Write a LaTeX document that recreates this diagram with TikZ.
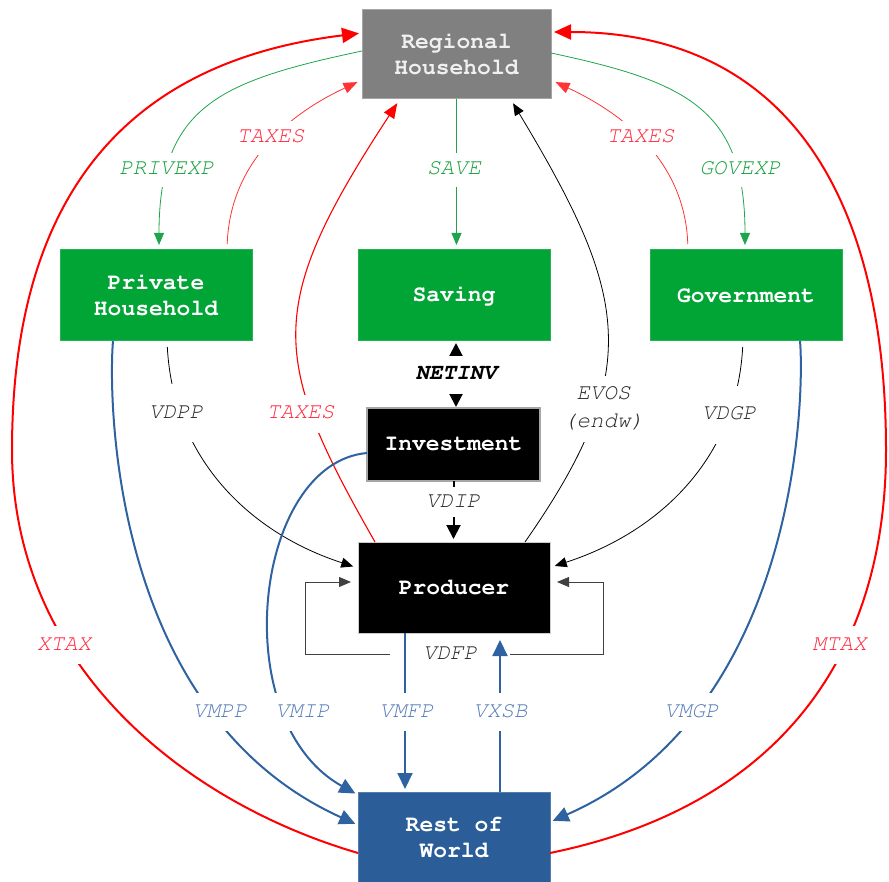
\documentclass[tikz,border=0pt]{standalone}
\usepackage[T1]{fontenc}
\usepackage{tikz}
\usetikzlibrary{arrows.meta,calc}
\newcommand{\sectorfont}{\fontencoding{T1}\fontfamily{pcr}\fontseries{b}\fontsize{23}{26}\selectfont}
\newcommand{\flowfont}{\fontencoding{T1}\fontfamily{pcr}\fontshape{sl}\fontsize{22.5}{28}\selectfont}
\definecolor{rhgray}{RGB}{128,128,128}
\definecolor{boxgreen}{RGB}{0,165,53}
\definecolor{rowblue}{RGB}{43,94,152}
\definecolor{flowblue}{RGB}{46,98,160}
\definecolor{flowgreen}{RGB}{30,165,75}
\definecolor{taxred}{RGB}{255,0,0}
\definecolor{lblgreen}{RGB}{20,160,60}
\definecolor{lblred}{RGB}{255,40,60}
\definecolor{lblblue}{RGB}{85,125,185}
\definecolor{lblblack}{RGB}{40,40,40}
\tikzset{
	sector/.style={rectangle,minimum width=192pt,minimum height=91pt,inner sep=0pt,outer sep=0pt,align=center,font=\sectorfont,text=white,line width=1pt},
	lbl/.style={fill=white,inner xsep=4pt,inner ysep=9pt,text height=15pt,text depth=5pt,font=\flowfont,text=lblblack},
	thinflow/.style={line width=0.8pt,-{Triangle[length=12pt,width=10pt]},shorten >=5pt},
	thickflow/.style={line width=2pt,-{Triangle[length=14pt,width=14pt]},shorten >=3pt},
	blueflow/.style={line width=2pt,flowblue,-{Triangle[length=16pt,width=15pt]},shorten >=3pt},
	taxflow/.style={line width=2pt,taxred,-{Triangle[length=17pt,width=15pt]},shorten >=3pt}}
\begin{document}
\begin{tikzpicture}[x=1pt,y=1pt]
	\useasboundingbox (0,0) rectangle (889,-882);
	\node (RH) at (456.5,-54.5) [sector,fill=rhgray,draw=gray!70,minimum width=189pt,minimum height=89pt,text=gray!12] {Regional\\Household};
	\node (PH) at (156,-295.5) [sector,fill=boxgreen,draw=boxgreen!85] {Private\\Household};
	\node (Sav) at (454,-295.5) [sector,fill=boxgreen,draw=boxgreen!85] {Saving};
	\node (Gov) at (746,-295.5) [sector,fill=boxgreen,draw=boxgreen!85] {Government};
	\node (Inv) at (453.5,-444.5) [sector,fill=black,draw=gray!70,line width=1.5pt,minimum width=173pt,minimum height=73pt] {Investment};
	\node (Prod) at (454,-587.5) [sector,fill=black,draw=gray!40] {Producer};
	\node (RoW) at (454,-837) [sector,fill=rowblue,draw=rowblue!80,minimum height=90pt] {Rest of\\World};
	\draw[thinflow,flowgreen] ([yshift=3.5pt]RH.west) to[out=192,in=90,looseness=1.3] ([xshift=3pt]PH.north);
	\draw[thinflow,flowgreen] (RH.south) -- (RH.south |- Sav.north);
	\draw[thinflow,flowgreen] ([yshift=1.5pt]RH.east) to[out=-12,in=90,looseness=1.3] ([xshift=-1pt]Gov.north);
	\draw[thinflow,taxred!80,shorten <=6pt,-{Triangle[length=14pt,width=11pt]}] ([xshift=71pt]PH.north) to[out=88,in=205] ([yshift=-25.5pt]RH.west);
	\draw[thinflow,taxred!80,shorten <=6pt,-{Triangle[length=14pt,width=11pt]}] ([xshift=-58pt]Gov.north) to[out=92,in=-25] ([yshift=-25.5pt]RH.east);
	\draw[thinflow,taxred,line width=1.1pt,-{Triangle[length=15pt,width=12pt]}] ([xshift=17pt]Prod.north west) .. controls (270,-358) and (264,-307) .. ([xshift=38pt]RH.south west);
	\draw[thinflow] ([xshift=-25pt]Prod.north east) .. controls (645,-370) and (629,-296) .. ([xshift=54pt]RH.south);
	\draw[line width=2pt,{Triangle[length=13pt,width=13pt]}-{Triangle[length=13pt,width=13pt]},shorten <=2pt,shorten >=1pt] ([xshift=2pt]Sav.south) -- ([xshift=2pt]Sav.south |- Inv.north);
	\draw[thickflow] (Inv.south) -- (Inv.south |- Prod.north);
	\draw[thinflow,shorten <=6pt] ([xshift=11pt]PH.south) to[out=-87,in=162] ([yshift=19.5pt]Prod.west);
	\draw[thinflow,shorten <=6pt] ([xshift=-3pt]Gov.south) to[out=-93,in=18] ([yshift=20pt]Prod.east);
	\node (lvdfp) at (450,-654) [lbl,minimum width=120pt] {VDFP};
	\draw[thinflow,black!75,shorten >=7pt] (lvdfp.west) -| ([xshift=-53pt,yshift=5.5pt]Prod.west) -- ([yshift=5.5pt]Prod.west);
	\draw[thinflow,black!75,shorten >=7pt] (lvdfp.east) -| ([xshift=53pt,yshift=5.5pt]Prod.east) -- ([yshift=5.5pt]Prod.east);
	\draw[blueflow] ([xshift=-49pt]Prod.south) -- ([xshift=-49pt]Prod.south |- RoW.north);
	\draw[blueflow,shorten >=7pt] ([xshift=46pt]RoW.north) -- ([xshift=46pt]RoW.north |- Prod.south);
	\draw[blueflow] ([xshift=-43pt]PH.south) .. controls (108.5,-392) and (108,-712) .. ([yshift=12pt]RoW.west);
	\draw[blueflow] ([yshift=-8.5pt]Inv.west) .. controls (253.5,-463) and (225,-721) .. ([yshift=-3pt]RoW.north west);
	\draw[blueflow] ([xshift=54pt]Gov.south) .. controls (804.5,-392) and (800,-712) .. ([yshift=15pt]RoW.east);
	\draw[taxflow] ([yshift=-16pt]RoW.west) .. controls (190,-804) and (12,-670) .. (12,-450) .. controls (12,-190) and (132,-61) .. ([yshift=21.5pt]RH.west);
	\draw[taxflow] ([yshift=-16pt]RoW.east) .. controls (775,-807) and (886,-660) .. (886,-450) .. controls (886,-190) and (782,-32) .. ([yshift=22.5pt]RH.east);
	\node (lprivexp) at (166.5,-170) [lbl,inner ysep=7pt,text=lblgreen] {PRIVEXP};
	\node (ltaxph) at (270.5,-138) [lbl,inner ysep=7pt,text=lblred] {TAXES};
	\node (lsave) at (454,-170) [lbl,inner ysep=7pt,text=lblgreen] {SAVE};
	\node (ltaxgov) at (640.5,-138) [lbl,inner ysep=7pt,text=lblred] {TAXES};
	\node (lgovexp) at (740,-170) [lbl,inner ysep=7pt,text=lblgreen] {GOVEXP};
	\node (ltaxprod) at (300.5,-414) [lbl,text=lblred] {TAXES};
	\node (levos) at (603.5,-409) [lbl,align=center,text height=43pt] {EVOS\\(endw)};
	\node (lnetinv) at (456,-375) [lbl,font=\flowfont\bfseries,text=black] {NETINV};
	\node (lvdip) at (453,-502) [lbl,inner ysep=5pt] {VDIP};
	\node (lvdpp) at (176,-413) [lbl,inner ysep=19pt] {VDPP};
	\node (lvdgp) at (729,-415) [lbl,inner ysep=19pt] {VDGP};
	\node (lvmpp) at (220,-712) [lbl,text=lblblue] {VMPP};
	\node (lvmip) at (302.5,-712) [lbl,text=lblblue] {VMIP};
	\node (lvmfp) at (406.5,-712) [lbl,text=lblblue] {VMFP};
	\node (lvxsb) at (500.5,-712) [lbl,text=lblblue] {VXSB};
	\node (lvmgp) at (691.5,-712) [lbl,text=lblblue] {VMGP};
	\node (lxtax) at (64,-645) [lbl,text=lblred] {XTAX};
	\node (lmtax) at (839.5,-645) [lbl,text=lblred] {MTAX};
\end{tikzpicture}
\end{document}
